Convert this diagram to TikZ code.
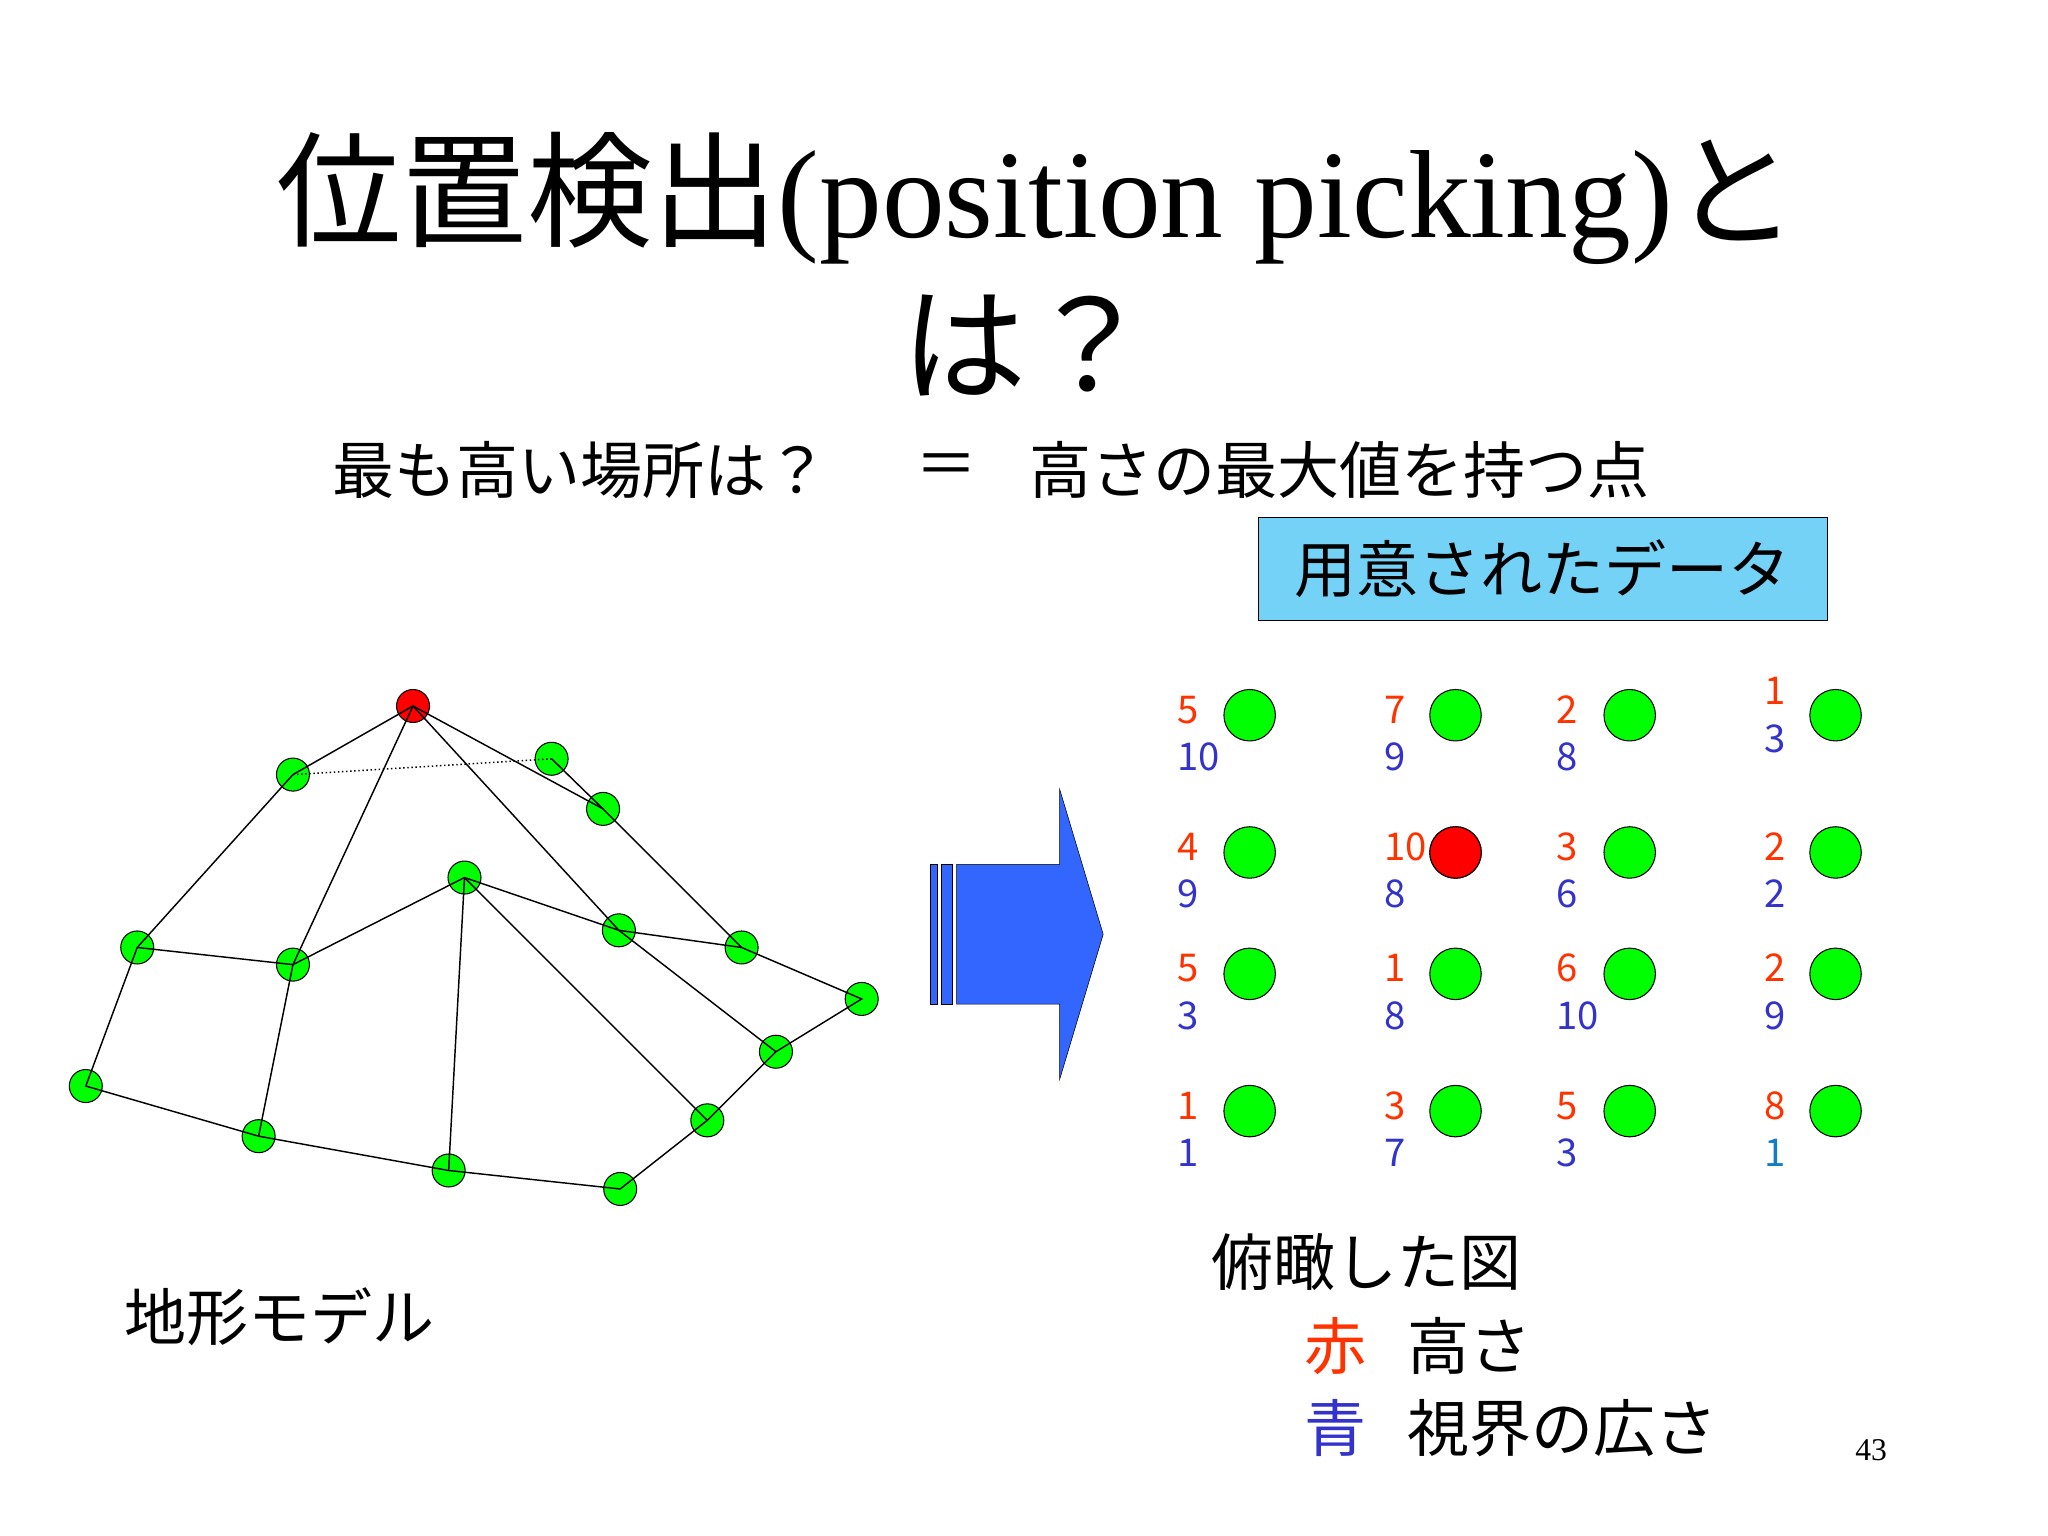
\documentclass[tikz,border=0pt]{standalone}
\usepackage{fontspec}
\setmainfont{Liberation Serif}
\newfontfamily\jp{Noto Sans CJK JP}
\definecolor{rr}{HTML}{FF3300}
\definecolor{bb}{HTML}{3333CC}
\definecolor{arr}{HTML}{3366FF}
\begin{document}
\begin{tikzpicture}[x=1pt,y=-1pt,
  pt/.style={circle,draw=black,thick,fill=green,minimum size=25pt,inner sep=0pt},
  gp/.style={circle,draw=black,thick,fill=green,minimum size=39pt,inner sep=0pt},
  rv/.style={text=rr,font=\jp\fontsize{29}{29}\selectfont,anchor=base west,inner sep=0pt},
  bv/.style={text=bb,font=\jp\fontsize{29}{29}\selectfont,anchor=base west,inner sep=0pt},
  big/.style={font=\jp\fontsize{47}{47}\selectfont,inner sep=0pt}]
\useasboundingbox[fill=white] (0,0) rectangle (1552,1164);
\node[font=\jp\fontsize{95}{95}\selectfont] (t1) at (786,150) {位置検出{\rmfamily(position picking)}と};
\node[font=\jp\fontsize{95}{95}\selectfont] (t2) at (778,262) {は？};
\node[big,anchor=west] (q1) at (252,356) {最も高い場所は？};
\node[big] (q2) at (717,356) {＝};
\node[big,anchor=west] (q3) at (780,356) {高さの最大値を持つ点};
\node[draw=black,fill=cyan!55!white,minimum width=431pt,minimum height=78pt,big] (data) at (1169,431) {用意されたデータ};
% terrain
\foreach \n/\x/\y in {a/222/587,b/418/575,c/457/613,d/352/665,e/469/705,f/562/718,g/653/757,h/588/797,i/536/849,j/470/901,k/340/887,l/196/861,m/65/823,n/104/718,o/222/731}
  \node[pt] (\n) at (\x,\y) {};
\node[pt,fill=red] (top) at (313,535) {};
\begin{scope}[line width=1.1pt]
\draw[dotted] (a.center) -- (b.center);
\draw (top.center) -- (a.center) -- (n.center) -- (m.center) -- (l.center) -- (k.center) -- (j.center) -- (i.center) -- (h.center) -- (g.center) -- (f.center) -- (e.center) -- (d.center) -- (o.center) -- (l.center);
\draw (n.center) -- (o.center) -- (top.center) -- (e.center) -- (h.center);
\draw (d.center) -- (k.center); \draw (d.center) -- (i.center);
\draw (top.center) -- (c.center) -- (f.center); \draw (b.center) -- (c.center);
\end{scope}
\node[big,anchor=west] (terr) at (94,998) {地形モデル};
% arrow
\draw[fill=arr,draw=black] (705,655) rectangle (710,761);
\draw[fill=arr,draw=black] (713,655) rectangle (722,761);
\draw[fill=arr,draw=black] (725,655) -- (803,655) -- (803,598) -- (836,708) -- (803,818) -- (803,761) -- (725,761) -- cycle;
% grid
\foreach \c/\gx in {0/947,1/1103,2/1235,3/1391}{
\foreach \r/\gy in {0/542,1/646,2/738,3/842}{
  \node[gp] (g\c\r) at (\gx,\gy) {};
}}
\def\lab#1#2#3#4{\node[rv] at (#1,#2) {#3}; \node[bv] at (#1,#2+36) {#4};}
\lab{892}{548}{5}{10}\lab{1049}{548}{7}{9}\lab{1179}{548}{2}{8}\lab{1337}{534}{1}{3}
\lab{892}{652}{4}{9}\lab{1049}{652}{10}{8}\lab{1179}{652}{3}{6}\lab{1337}{652}{2}{2}
\lab{892}{744}{5}{3}\lab{1049}{744}{1}{8}\lab{1179}{744}{6}{10}\lab{1337}{744}{2}{9}
\lab{892}{848}{1}{1}\lab{1049}{848}{3}{7}\lab{1179}{848}{5}{3}\node[rv] at (1337,848) {8};\node[bv,text=cyan!60!blue] at (1337,884) {1};
\node[gp,fill=red] (r11) at (1103,646) {};
\node[big,anchor=west] (fk) at (918,956) {俯瞰した図};
\node[big,anchor=west] (aka) at (988,1020) {{\color{rr}赤}\ \ \ 高さ};
\node[big,anchor=west] (ao) at (988,1082) {{\color{bb}青}\ \ \ 視界の広さ};
\node[font=\rmfamily\fontsize{24}{24}\selectfont] (pg) at (1418,1099) {43};
\end{tikzpicture}
\end{document}
